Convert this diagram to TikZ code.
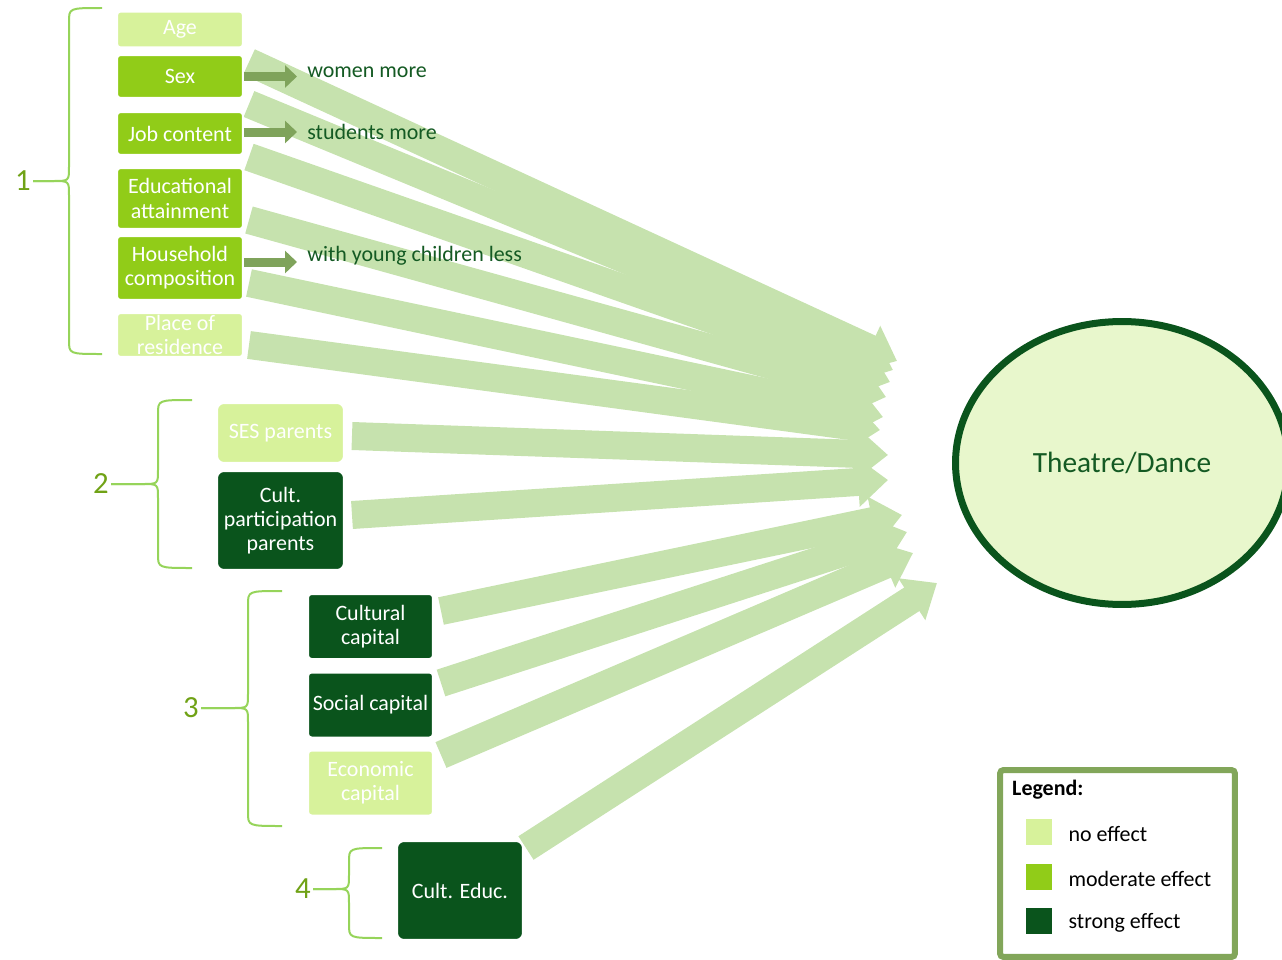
\documentclass[tikz,border=0pt]{standalone}
\usepackage{fontspec}
\setmainfont{Carlito}
\usetikzlibrary{arrows.meta,calc,shapes.geometric,backgrounds}

\definecolor{noeff}{RGB}{215,242,155}
\definecolor{modeff}{RGB}{145,204,24}
\definecolor{streff}{RGB}{10,84,28}
\definecolor{bandgreen}{RGB}{198,226,174}
\definecolor{smallgreen}{RGB}{127,163,91}
\definecolor{bracegreen}{RGB}{150,212,90}
\definecolor{numgreen}{RGB}{112,162,22}
\definecolor{notegreen}{RGB}{20,90,35}
\definecolor{ovalfill}{RGB}{232,247,204}
\definecolor{legframe}{RGB}{130,166,90}

\begin{document}
\begin{tikzpicture}[x=0.02cm,y=-0.02cm,
    box/.style={draw=white,line width=0.04cm,rounded corners=2pt,inner sep=0pt,
        text=white,align=center,font=\fontsize{12.5}{13.8}\selectfont},
    bigarrow/.style={draw=bandgreen,line width=0.56cm,-{Triangle[width=0.96cm,length=0.6cm]}},
    smallarrow/.style={draw=smallgreen,line width=0.18cm,-{Triangle[width=0.44cm,length=0.24cm]}},
    note/.style={inner sep=0.2cm,anchor=west,text=notegreen,font=\fontsize{12.5}{14}\selectfont},
    brace/.style={draw=bracegreen,line width=0.04cm},
    grouplbl/.style={inner sep=0.04cm,text=numgreen,font=\fontsize{17.5}{18}\selectfont}]
    \useasboundingbox (0,0) rectangle (1282,960);

    % group 1
    \node[box,fill=noeff,minimum width=2.52cm,minimum height=0.72cm] (age) at (180,29.5) {Age};
    \node[box,fill=modeff,minimum width=2.52cm,minimum height=0.86cm] (sex) at (180,76.5) {Sex};
    \node[box,fill=modeff,minimum width=2.52cm,minimum height=0.86cm] (job) at (180,133.5) {Job content};
    \node[box,fill=modeff,minimum width=2.52cm,minimum height=1.22cm] (edu) at (180,198.5) {Educational\\attainment};
    \node[box,fill=modeff,minimum width=2.52cm,minimum height=1.28cm] (house) at (180,268) {Household\\composition};
    \node[box,fill=noeff,minimum width=2.52cm,minimum height=0.88cm] (place) at (180,335) {Place of\\residence};
    % group 2
    \node[box,fill=noeff,minimum width=2.54cm,minimum height=1.2cm,rounded corners=4pt] (ses) at (280.5,433) {SES parents};
    \node[box,fill=streff,minimum width=2.54cm,minimum height=1.98cm,rounded corners=4pt] (cpp) at (280.5,520.5) {Cult.\\participation\\parents};
    % group 3
    \node[box,fill=streff,minimum width=2.5cm,minimum height=1.3cm] (cc) at (370.5,626.5) {Cultural\\capital};
    \node[box,fill=streff,minimum width=2.5cm,minimum height=1.3cm] (sc) at (370.5,705) {Social capital};
    \node[box,fill=noeff,minimum width=2.5cm,minimum height=1.3cm] (ec) at (370.5,783) {Economic\\capital};
    % group 4
    \node[box,fill=streff,minimum width=2.52cm,minimum height=1.98cm,rounded corners=4pt] (ce) at (460,890.5) {Cult. Educ.};

    \node[ellipse,draw=streff,fill=ovalfill,line width=0.14cm,minimum width=6.66cm,minimum height=5.66cm,
        text=notegreen,font=\fontsize{16.7}{18}\selectfont] (theatre) at (1122,463) {Theatre/Dance};

    % effects on the target
    \begin{scope}[on background layer]
        \foreach \b/\dx/\dy/\tx/\ty in {age/5/32.5/897/361, sex/5/27.5/893/370, job/5/23.5/890/382,
            edu/5/21.5/886/397, house/5/15/883/417, place/5/10/880/430, ses/7/3/888/455,
            cpp/7/-5.5/888/480, cc/7/-15.5/902/515, sc/7/-22/907/532, ec/7/-28/913/553, ce/2/-42.5/937/583}{
            \coordinate (tip-\b) at (\tx,\ty);
            \draw[bigarrow] ($(\b.east)+(\dx,\dy)$) -- (tip-\b);
        }
    \end{scope}

    % remarks
    \node[note] (wm) at (297,72) {women more};
    \node[note] (sm) at (297,132) {students more};
    \node[note] (yc) at (297,256) {with young children less};
    \draw[smallarrow] (sex.east) -- (sex.east -| wm.west);
    \draw[smallarrow] ([yshift=0.03cm]job.east) -- ([yshift=0.03cm]job.east -| sm.west);
    \draw[smallarrow] ([yshift=0.12cm]house.east) -- ([yshift=0.12cm]house.east -| yc.west);

    % braces
    \foreach \n/\xl/\xe/\xv/\yt/\ym/\yb in {1/23/102/69/8/181/354, 2/101/192/158/400/484/568,
        3/191/282/248/591/708/826, 4/303/382/349/848/889/938}{
        \node[grouplbl] (g\n) at (\xl,\ym) {\n};
        \draw[brace] (\xe,\yt) .. controls (\xv,\yt) .. (\xv,\yt+14) -- (\xv,\ym-14)
            .. controls (\xv,\ym) .. (\xv-16,\ym) -- (g\n.east);
        \draw[brace] (g\n.east) -- (\xv-16,\ym) .. controls (\xv,\ym) .. (\xv,\ym+14)
            -- (\xv,\yb-14) .. controls (\xv,\yb) .. (\xe,\yb);
    }

    % legend
    \node[draw=legframe,line width=0.12cm,rounded corners=2pt,minimum width=4.7cm,minimum height=3.74cm] (legend) at (1117.5,863.5) {};
    \node[anchor=west,font=\fontsize{12.5}{14}\selectfont\bfseries] (legtitle) at (1006,790) {Legend:};
    \foreach \c/\y/\t in {noeff/832/no effect, modeff/876.5/moderate effect, streff/921/strong effect}{
        \node[fill=\c,minimum size=0.52cm,inner sep=0pt] (leg\c) at (1039,\y) {};
        \node[anchor=west,font=\fontsize{12.5}{14}\selectfont] at ($(leg\c.east)+(10,2)$) {\t};
    }
\end{tikzpicture}
\end{document}
